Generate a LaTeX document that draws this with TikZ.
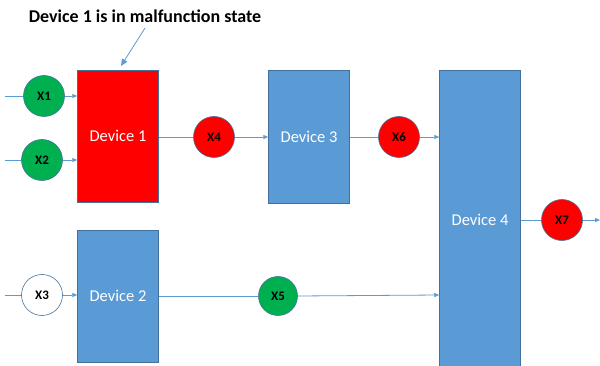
\documentclass[tikz,border=0pt]{standalone}
\usepackage{fontspec}
\setmainfont{Carlito}
\usetikzlibrary{arrows.meta}
\definecolor{devblue}{HTML}{5B9BD5}
\definecolor{edgeblue}{HTML}{41719C}
\definecolor{okgreen}{HTML}{00B050}
\definecolor{badred}{HTML}{FF0000}
\tikzset{
  dev/.style={draw=edgeblue, line width=0.5pt, fill=devblue, text=white, font=\fontsize{16.5}{18}\selectfont, minimum width=81pt, inner sep=0pt},
  sig/.style={circle, draw=edgeblue, line width=0.6pt, minimum size=41pt, inner sep=0pt, font=\bfseries\fontsize{13}{14}\selectfont},
  conn/.style={draw=devblue, line width=0.8pt, -{Triangle[length=5pt,width=4pt]}},
  plain/.style={draw=devblue, line width=0.8pt}
}
\begin{document}
\begin{tikzpicture}[x=1pt,y=-1pt]
\useasboundingbox (0,0) rectangle (600,366);
\node[font=\bfseries\fontsize{18}{20}\selectfont] (title) at (145,16) {Device 1 is in malfunction state};
% devices
\node[dev, fill=badred, minimum height=132pt] (d1) at (118,136) {Device 1};
\node[dev, minimum height=132pt] (d2) at (118,296) {Device 2};
\node[dev, minimum height=133pt] (d3) at (309,136.5) {Device 3};
\node[dev, minimum height=298pt, anchor=north] (d4) at (480,70) {};
\node[text=white, font=\fontsize{16.5}{18}\selectfont] (d4l) at (480,220) {Device 4};
% signals
\node[sig, fill=okgreen] (x1) at (44,96) {X1};
\node[sig, fill=okgreen] (x2) at (42,160) {X2};
\node[sig, fill=white] (x3) at (42,295) {X3};
\node[sig, fill=badred] (x4) at (214,137) {X4};
\node[sig, fill=okgreen, minimum size=39pt] (x5) at (278,296) {X5};
\node[sig, fill=badred] (x6) at (399,137) {X6};
\node[sig, fill=badred] (x7) at (562,220) {X7};
% free ends
\coordinate (s1) at (5,96);
\coordinate (s2) at (5,160);
\coordinate (s3) at (5,295);
\coordinate (e7) at (600,220);
\coordinate (a1) at (145,28);
\coordinate (a2) at (121,66);
% connectors
\draw[plain] (s1) -- (x1.west);
\draw[plain] (s2) -- (x2.west);
\draw[plain] (s3) -- (x3.west);
\draw[conn] (x1.east) -- (d1.west |- x1);
\draw[conn] (x2.east) -- (d1.west |- x2);
\draw[conn] (x3.east) -- (d2.west |- x3);
\draw[plain] (d1.east |- x4) -- (x4.west);
\draw[conn] (x4.east) -- (d3.west |- x4);
\draw[plain] (d3.east |- x6) -- (x6.west);
\draw[conn] (x6.east) -- (d4.west |- x6);
\draw[plain] (d2.east |- x5) -- (x5.west);
\draw[conn] (x5.east) -- ([yshift=1pt]d4.west |- x5);
\draw[plain] (d4.east |- x7) -- (x7.west);
\draw[conn] (x7.east) -- (e7);
\draw[draw=devblue, line width=0.8pt, -{Triangle[length=7pt,width=6pt]}] (a1) -- (a2);
\end{tikzpicture}
\end{document}
